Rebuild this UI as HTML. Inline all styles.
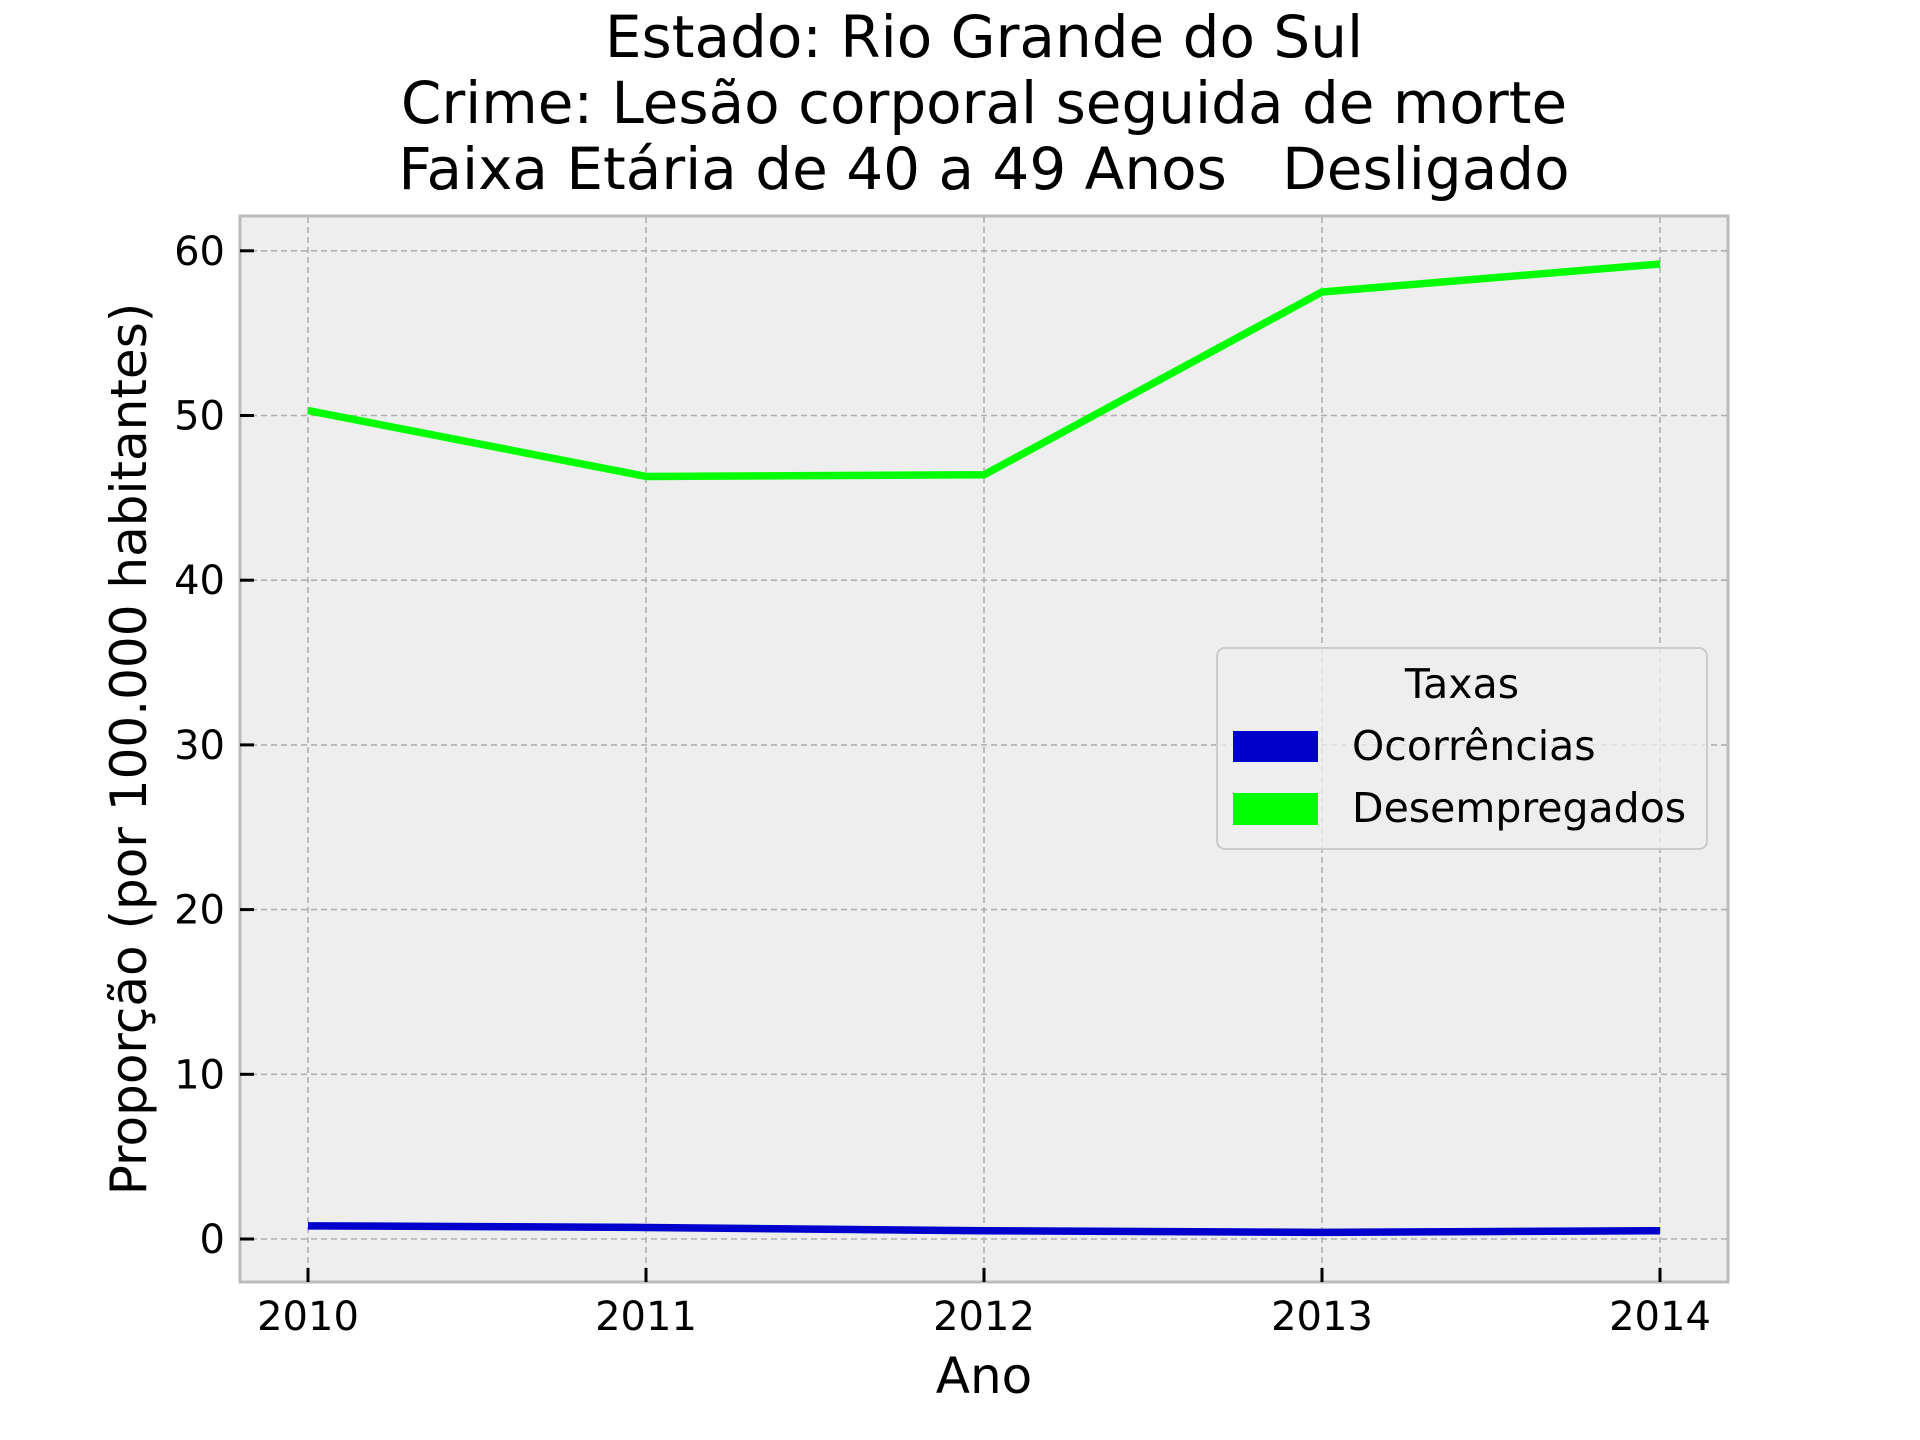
<!DOCTYPE html>
<html><head><meta charset="utf-8"><style>
body{margin:0;background:#fff;}
svg{display:block;font-family:"DejaVu Sans","Liberation Sans",sans-serif;}
</style></head><body>
<svg id="chart" width="1920" height="1440" xmlns="http://www.w3.org/2000/svg">
<g font-size="58" text-anchor="middle" fill="#000" style="white-space:pre">
<text x="984" y="57">Estado: Rio Grande do Sul</text>
<text x="984" y="123">Crime: Lesão corporal seguida de morte</text>
<text x="984" y="189" xml:space="preserve">Faixa Etária de 40 a 49 Anos   Desligado</text>
</g>
<rect x="240" y="216" width="1488" height="1066" fill="#eeeeee" stroke="#bcbcbc" stroke-width="3"/>
<g id="grid"></g>
<g id="series"></g>
<g id="ticks" font-size="40" fill="#000"></g>
<text x="984" y="1393" font-size="50" text-anchor="middle">Ano</text>
<text transform="translate(146,749) rotate(-90)" font-size="50" text-anchor="middle">Proporção (por 100.000 habitantes)</text>
<g>
<rect x="1217" y="648" width="490" height="201" rx="8" fill="#eeeeee" fill-opacity="0.8" stroke="#cccccc" stroke-width="2"/>
<text x="1462" y="698" font-size="41" text-anchor="middle">Taxas</text>
<rect x="1233" y="731" width="85" height="31" fill="#0000cc"/>
<text x="1352" y="760" font-size="41">Ocorrências</text>
<rect x="1233" y="793" width="85" height="32" fill="#00ff00"/>
<text x="1352" y="822" font-size="41">Desempregados</text>
</g>
</svg>
<script>
const years = [2010, 2011, 2012, 2013, 2014];
const ocorrencias = [0.8, 0.7, 0.5, 0.4, 0.5];
const desempregados = [50.3, 46.3, 46.4, 57.5, 59.2];
const yTicks = [0, 10, 20, 30, 40, 50, 60];
const NS = "http://www.w3.org/2000/svg";
function xs(v){return 308 + (v-2010)*338;}
function ys(v){return 1239 - v*16.47;}
function mk(tag, attrs, parent){const e=document.createElementNS(NS,tag);for(const k in attrs)e.setAttribute(k,attrs[k]);document.getElementById(parent).appendChild(e);return e;}
years.forEach(y=>{
  const g=mk('line',{x1:xs(y),x2:xs(y),y1:217,y2:1281,stroke:'#b0b0b0','stroke-width':1.6,'stroke-dasharray':'6,4'},'grid');
  
  
  const t=mk('line',{x1:xs(y),x2:xs(y),y1:1282,y2:1268,stroke:'#000','stroke-width':3},'ticks');
  
  
  const l=mk('text',{x:xs(y),y:1330,'text-anchor':'middle'},'ticks');
  l.textContent=y;
  
  
});
yTicks.forEach(v=>{
  const g=mk('line',{x1:241,x2:1727,y1:ys(v),y2:ys(v),stroke:'#b0b0b0','stroke-width':1.6,'stroke-dasharray':'6,4'},'grid');
  
  
  const t=mk('line',{x1:240,x2:254,y1:ys(v),y2:ys(v),stroke:'#000','stroke-width':3},'ticks');
  
  
  const l=mk('text',{x:225,y:ys(v)+14,'text-anchor':'end'},'ticks');
  l.textContent=v;
  
  
});
function line(data,color,name){
  const p=mk('polyline',{points:data.map((v,i)=>xs(years[i])+','+ys(v)).join(' '),fill:'none',stroke:color,'stroke-width':7.5,'stroke-linejoin':'round'},'series');
  
  
}
line(ocorrencias,'#0000cc','ocorrencias-line');
line(desempregados,'#00ff00','desempregados-line');
</script>
</body></html>
